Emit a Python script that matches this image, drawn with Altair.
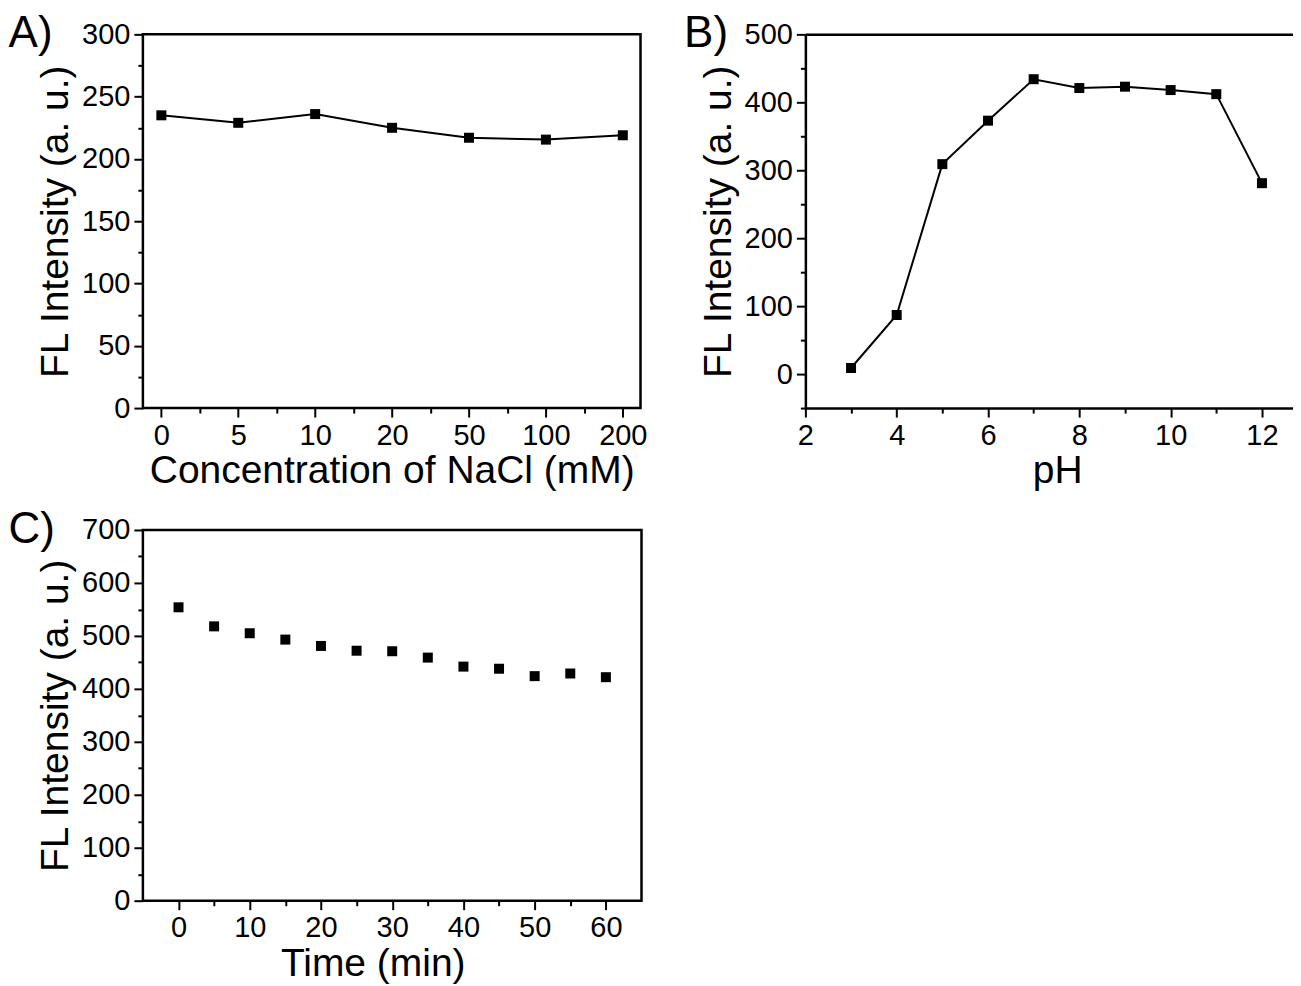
import altair as alt
import pandas as pd

# ---------------- data ----------------
nacl_labels = ["0", "5", "10", "20", "50", "100", "200"]
nacl_intensity = [235, 229, 236, 225, 217, 215.5, 219]

ph_values = [3, 4, 5, 6, 7, 8, 9, 10, 11, 12]
ph_intensity = [9, 87, 309, 373, 434, 421, 423, 418, 412, 281]

time_values = [0, 5, 10, 15, 20, 25, 30, 35, 40, 45, 50, 55, 60]
time_intensity = [554, 518, 505, 493, 481, 472, 471, 459, 442, 438, 424, 429, 422]

FONT = "Liberation Sans"
LABEL_SIZE = 29
TITLE_SIZE = 39
PANEL_SIZE = 44
YTITLE = "FL Intensity (a. u.)"


def tick_size(test):
    return {"condition": {"test": test, "value": 5}, "value": 9}


def axis(values, label_expr, minor_test, title, domain=False, title_pad=1, **kw):
    return alt.Axis(
        values=values,
        labelExpr=label_expr,
        tickSize=tick_size(minor_test),
        tickWidth=2,
        tickColor="black",
        labelColor="black",
        labelFont=FONT,
        labelFontSize=LABEL_SIZE,
        labelPadding=4,
        labelFlush=False,
        labelOverlap=False,
        title=title,
        titleFont=FONT,
        titleFontSize=TITLE_SIZE,
        titleFontWeight="normal",
        titleColor="black",
        titlePadding=title_pad,
        grid=False,
        domain=domain,
        domainColor="black",
        domainWidth=2.5,
        **kw,
    )


def panel_title(text, dx=-28):
    return alt.TitleParams(
        text=text, anchor="start", frame="bounds", font=FONT,
        fontSize=PANEL_SIZE, fontWeight="normal", color="black",
        offset=-36, dx=dx,
    )


# ---------------- panel A ----------------
df_a = pd.DataFrame({
    "idx": list(range(len(nacl_labels))),
    "conc": nacl_labels,
    "fl": nacl_intensity,
})
cat_array = "[" + ",".join(f"'{c}'" for c in nacl_labels) + "]"
xa_vals = [i / 2 for i in range(0, 2 * (len(nacl_labels) - 1) + 1)]
xa = alt.X(
    "idx:Q",
    scale=alt.Scale(domain=[-0.24, 6.23], nice=False, zero=False),
    axis=axis(xa_vals, f"datum.value % 1 == 0 ? {cat_array}[datum.value] : ''",
              "datum.value % 1 != 0", "Concentration of NaCl (mM)"),
)
ya = alt.Y(
    "fl:Q",
    scale=alt.Scale(domain=[0, 300], nice=False),
    axis=axis(list(range(0, 301, 25)), "datum.value % 50 == 0 ? datum.label : ''",
              "datum.value % 50 != 0", YTITLE, title_pad=6),
)
base_a = alt.Chart(df_a).encode(x=xa, y=ya)
chart_a = alt.layer(
    base_a.mark_line(color="black", strokeWidth=2),
    base_a.mark_point(shape="square", filled=True, color="black", size=100, opacity=1),
).properties(
    width=498, height=374, title=panel_title("A)"),
    view=alt.ViewBackground(stroke="black", strokeWidth=2.5),
)

# ---------------- panel B ----------------
df_b = pd.DataFrame({"ph": ph_values, "fl": ph_intensity})
xb_bottom = alt.X(
    "ph:Q",
    scale=alt.Scale(domain=[2, 12.68], nice=False, zero=False),
    axis=axis(list(range(2, 13)), "datum.value % 2 == 0 ? datum.label : ''",
              "datum.value % 2 != 0", "pH", domain=True,
              titleX=252, titleAlign="center"),
)
xb_top = alt.X(
    "ph:Q",
    axis=alt.Axis(orient="top", labels=False, ticks=False, domain=True,
                  domainColor="black", domainWidth=2.5, grid=False, title=None),
)
yb = alt.Y(
    "fl:Q",
    scale=alt.Scale(domain=[-50, 500], nice=False, zero=False),
    axis=axis(list(range(-50, 501, 50)), "datum.value % 100 == 0 ? datum.label : ''",
              "datum.value % 100 != 0", YTITLE, domain=True, title_pad=6),
)
chart_b = alt.layer(
    alt.Chart(df_b).mark_line(color="black", strokeWidth=2).encode(x=xb_bottom, y=yb),
    alt.Chart(df_b).mark_point(shape="square", filled=True, color="black", size=100, opacity=1)
    .encode(x=xb_top, y=yb),
).resolve_axis(x="independent").properties(
    width=488, height=374, title=panel_title("B)", dx=-15),
    view=alt.ViewBackground(strokeOpacity=0),
)

# ---------------- panel C ----------------
df_c = pd.DataFrame({"t": time_values, "fl": time_intensity})
xc = alt.X(
    "t:Q",
    scale=alt.Scale(domain=[-5, 65], nice=False, zero=False),
    axis=axis(list(range(0, 61, 5)), "datum.value % 10 == 0 ? datum.label : ''",
              "datum.value % 10 != 0", "Time (min)", title_pad=2,
              titleX=230, titleAlign="center"),
)
yc = alt.Y(
    "fl:Q",
    scale=alt.Scale(domain=[0, 700], nice=False),
    axis=axis(list(range(0, 701, 50)), "datum.value % 100 == 0 ? datum.label : ''",
              "datum.value % 100 != 0", YTITLE, title_pad=6),
)
chart_c = alt.Chart(df_c).mark_point(
    shape="square", filled=True, color="black", size=100, opacity=1
).encode(x=xc, y=yc).properties(
    width=499, height=371, title=panel_title("C)"),
    view=alt.ViewBackground(stroke="black", strokeWidth=2.5),
)

top = alt.hconcat(chart_a, chart_b, spacing=35)
chart = alt.vconcat(top, chart_c, spacing=14).properties(
    padding={"left": -1, "top": 2, "right": 0, "bottom": 0},
    background="white",
).configure_view(stroke="black", strokeWidth=2.5)

chart.save("out.html", embed_options={"renderer": "svg", "actions": False})
